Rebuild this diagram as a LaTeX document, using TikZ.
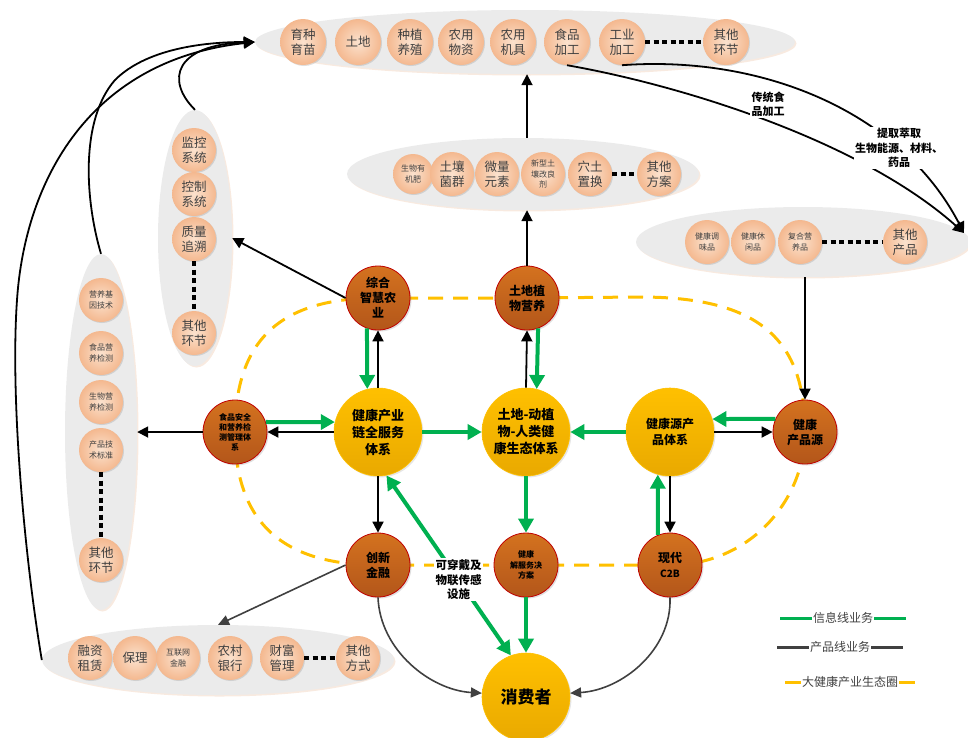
\documentclass[tikz,border=0pt]{standalone}
\usepackage{fontspec}
\setmainfont{Noto Sans CJK SC}
\usetikzlibrary{arrows.meta,shapes.geometric,shadows,calc}
\definecolor{bubA}{HTML}{FBE2CE}
\definecolor{bubB}{HTML}{F4B88F}
\definecolor{brA}{HTML}{D4721F}
\definecolor{brB}{HTML}{B3561A}
\definecolor{brD}{HTML}{C00000}
\definecolor{yeA}{HTML}{FFC000}
\definecolor{yeB}{HTML}{E9A900}
\definecolor{grn}{HTML}{00B050}
\definecolor{dgray}{HTML}{404040}
\definecolor{ctr}{HTML}{EBEBEB}
\definecolor{ctrsh}{HTML}{F8EAE0}
\definecolor{txt}{HTML}{404040}
\definecolor{ringc}{HTML}{FFC000}
\newcommand{\myfs}[2]{\fontsize{#1}{#2}\selectfont}
\begin{document}
\begin{tikzpicture}[x=1pt,y=-1pt,
  container/.style={ellipse, fill=ctr, draw=none, inner sep=0pt,
    drop shadow={shadow xshift=1.5pt, shadow yshift=-1.5pt, fill=ctrsh, opacity=1}},
  bub/.style={circle, minimum size=44pt, inner sep=0pt, inner color=bubA, outer color=bubB,
    text=txt, align=center, font=\myfs{12.5}{15},
    drop shadow={shadow xshift=1pt, shadow yshift=-1pt, opacity=0.25}},
  tiny/.style={font=\myfs{8}{10.5}},
  brn/.style={circle, minimum size=64pt, inner sep=0pt, top color=brA, bottom color=brB,
    draw=brD, line width=0.8pt, align=center, font=\bfseries\myfs{12}{15},
    drop shadow={shadow xshift=1.5pt, shadow yshift=-1.5pt, opacity=0.25}},
  yel/.style={circle, minimum size=88pt, inner sep=0pt, top color=yeA, bottom color=yeB,
    draw=yeA, line width=0.6pt, align=center, font=\bfseries\myfs{13}{17},
    drop shadow={shadow xshift=1.5pt, shadow yshift=-1.5pt, opacity=0.2}},
  garr/.style={draw=grn, line width=4pt, -{Triangle[length=14pt,width=15pt]}},
  gdbl/.style={draw=grn, line width=4pt, {Triangle[length=14pt,width=15pt]}-{Triangle[length=14pt,width=15pt]}},
  blk/.style={draw=black, line width=1.8pt, -{Triangle[length=11pt,width=11pt]}},
  gry/.style={draw=dgray, line width=1.6pt, -{Triangle[length=11pt,width=10pt]}},
  dotln/.style={draw=black, line width=3.5pt, dash pattern=on 5pt off 3.5pt},
  lab/.style={fill=white, inner sep=1.5pt, align=center, font=\bfseries\myfs{11.5}{14.5}},
  legtxt/.style={text=txt, inner sep=1pt, font=\myfs{12}{14}}
]
\useasboundingbox (0,0) rectangle (968,737);

% ---------- containers ----------
\node[container, minimum width=540pt, minimum height=64pt] (topE) at (525,42) {};
\node[container, minimum width=352pt, minimum height=72pt] (midE) at (523,174) {};
\node[container, minimum width=334pt, minimum height=70pt] (rightE) at (803,242) {};
\node[container, minimum width=74pt, minimum height=256pt] (v1E) at (195,238) {};
\node[container, minimum width=72pt, minimum height=356pt] (v2E) at (101,432) {};
\node[container, minimum width=352pt, minimum height=70pt] (botE) at (218,660) {};

% ---------- top bubbles ----------
\node[bub, minimum size=46pt] (t1) at (303,42) {育种\\育苗};
\node[bub, minimum size=46pt] (t2) at (358,42) {土地};
\node[bub, minimum size=46pt] (t3) at (410,42) {种植\\养殖};
\node[bub, minimum size=46pt] (t4) at (461,42) {农用\\物资};
\node[bub, minimum size=46pt] (t5) at (513,42) {农用\\机具};
\node[bub, minimum size=46pt] (t6) at (567,42) {食品\\加工};
\node[bub, minimum size=46pt] (t7) at (622,42) {工业\\加工};
\node[bub, minimum size=46pt] (t8) at (726,42) {其他\\环节};
\draw[dotln] (t7.east) -- (t8.west);

% ---------- middle bubbles ----------
\node[bub, tiny, minimum size=40pt] (m1) at (413,174) {生物有\\机肥};
\node[bub] (m2) at (452,174) {土壤\\菌群};
\node[bub] (m3) at (497,174) {微量\\元素};
\node[bub, tiny] (m4) at (543,174) {新型土\\壤改良\\剂};
\node[bub] (m5) at (590,174) {穴土\\置换};
\node[bub] (m6) at (659,174) {其他\\方案};
\draw[dotln] (m5.east) -- (m6.west);

% ---------- right bubbles ----------
\node[bub, tiny] (r1) at (707,242) {健康调\\味品};
\node[bub, tiny] (r2) at (753,242) {健康休\\闲品};
\node[bub, tiny] (r3) at (800,242) {复合营\\养品};
\node[bub] (r4) at (905,242) {其他\\产品};
\draw[dotln] (r3.east) -- (r4.west);

% ---------- vertical 1 ----------
\node[bub] (a1) at (194,150) {监控\\系统};
\node[bub] (a2) at (194,194) {控制\\系统};
\node[bub] (a3) at (194,239) {质量\\追溯};
\node[bub] (a4) at (194,333) {其他\\环节};
\draw[dotln] (a3.south) -- (a4.north);

% ---------- vertical 2 ----------
\node[bub, tiny] (b1) at (101,300) {营养基\\因技术};
\node[bub, tiny] (b2) at (101,353) {食品营\\养检测};
\node[bub, tiny] (b3) at (101,402) {生物营\\养检测};
\node[bub, tiny] (b4) at (101,450) {产品技\\术标准};
\node[bub] (b5) at (101,560) {其他\\环节};
\draw[dotln] (b4.south) -- (b5.north);

% ---------- bottom bubbles ----------
\node[bub] (c1) at (90,658) {融资\\租赁};
\node[bub] (c2) at (135,658) {保理};
\node[bub, tiny] (c3) at (178,658) {互联网\\金融};
\node[bub] (c4) at (230,658) {农村\\银行};
\node[bub] (c5) at (282,658) {财富\\管理};
\node[bub] (c6) at (358,658) {其他\\方式};
\draw[dotln] (c5.east) -- (c6.west);

% ---------- ecosystem ring ----------
\coordinate (zhC) at (378,298);
\coordinate (tzC) at (527,298);
\coordinate (hpC) at (805,432);
\coordinate (c2C) at (670,565);
\coordinate (jrC) at (378,565);
\coordinate (fsC) at (235,432);
\draw[ringc, line width=3pt, dash pattern=on 15pt off 10pt]
  (zhC) -- (tzC) -- (640,297) .. controls (760,297) and (805,340) .. (hpC)
  .. controls (805,500) and (750,565) .. (c2C) -- (jrC)
  .. controls (280,565) and (235,520) .. (fsC)
  .. controls (235,340) and (280,298) .. (zhC) -- cycle;

% ---------- core nodes ----------
\node[brn] (zh) at (zhC) {综合\\智慧农\\业};
\node[brn] (tz) at (tzC) {土地植\\物营养};
\node[brn, font=\bfseries\myfs{8}{10}] (fs) at (fsC) {食品安全\\和营养检\\测管理体\\系};
\node[yel] (hc) at (378,432) {健康产业\\链全服务\\体系};
\node[yel] (st) at (526,432) {土地-动植\\物-人类健\\康生态体系};
\node[yel, font=\bfseries\myfs{12}{16}] (hy) at (670,432) {健康源产\\品体系};
\node[brn] (hp) at (hpC) {健康\\产品源};
\node[brn] (c2b) at (c2C) {现代\\{\myfs{10}{12}C2B}};
\node[brn] (jr) at (jrC) {创新\\金融};
\node[brn, font=\bfseries\myfs{8}{10.5}] (fa) at (526,565) {健康\\解服务决\\方案};
\node[yel, font=\bfseries\myfs{17}{20}] (xf) at (526,697) {消费者};

% ---------- green (information) ----------
\draw[garr] (zh.250) -- (hc.104);
\draw[garr] (tz.290) -- (st.76);
\draw[garr] (fs.18) -- (hc.167);
\draw[garr] (hc.east) -- (st.west);
\draw[garr] (hy.west) -- (st.east);
\draw[garr] (hp.156) -- (hy.17);
\draw[garr] (c2b.112) -- (hy.254);
\draw[garr] (st.south) -- (fa.north);
\draw[garr] (fa.south) -- (xf.north);
\draw[gdbl] (hc.281) -- node[lab, pos=0.58] {可穿戴及\\物联传感\\设施} (xf.110);

% ---------- black (product) ----------
\draw[blk] (hc.north) -- (zh.south);
\draw[blk] (st.north) -- (tz.south);
\draw[blk] (hc.west) -- (fs.east);
\draw[blk] (hy.east) -- (hp.west);
\draw[blk] (hy.south) -- (c2b.north);
\draw[blk] (hc.south) -- (jr.north);
\draw[blk] (zh.west) -- (v1E.east);
\draw[blk] (fs.west) -- (v2E.east);
\draw[blk] (tz.north) -- (tz.north |- midE.south);
\draw[blk] (tz.north |- midE.north) -- (tz.north |- topE.south);
\draw[blk] (hp.north |- rightE.south) -- (hp.north);
\draw[gry] (jr.west) -- (botE.north);
\draw[gry] (jr.south) .. controls (380,650) and (430,690) .. (xf.175);
\draw[gry] (c2b.south) .. controls (672,650) and (622,690) .. (xf.5);

% ---------- long curves to top ----------
\coordinate (rEnd) at (964,233);
\draw[blk] (t6.south) .. controls (680,85) and (860,140) .. (rEnd);
\draw[blk] (t7.south) .. controls (760,55) and (900,110) .. (rEnd);
\node[lab, font=\bfseries\myfs{11}{14.5}] (lbl1) at (768,104) {传统食\\品加工};
\node[lab, font=\bfseries\myfs{11}{14.5}] (lbl2) at (899,148) {提取萃取\\生物能源、材料、\\药品};
\draw[blk] (v1E.north) .. controls (165,80) and (175,45) .. (topE.west);
\draw[blk] (v2E.north) .. controls (85,200) and (80,120) .. (115,80)
  .. controls (145,50) and (200,42) .. (topE.west);
\draw[blk] (botE.west) .. controls (25,560) and (10,400) .. (17,300)
  .. controls (25,180) and (90,60) .. (topE.west);

% ---------- legend ----------
\node[legtxt] (lg1) at (843,618) {信息线业务};
\node[legtxt] (lg2) at (840,647) {产品线业务};
\node[legtxt] (lg3) at (850,682) {大健康产业生态圈};
\draw[grn, line width=3pt] (lg1.west) -- ++(-32,0);
\draw[grn, line width=3pt] (lg1.east) -- ++(32,0);
\draw[dgray, line width=3pt] (lg2.west) -- ++(-32,0);
\draw[dgray, line width=3pt] (lg2.east) -- ++(32,0);
\draw[ringc, line width=3pt] (lg3.west) -- ++(-16,0);
\draw[ringc, line width=3pt] (lg3.east) -- ++(16,0);
\end{tikzpicture}
\end{document}
